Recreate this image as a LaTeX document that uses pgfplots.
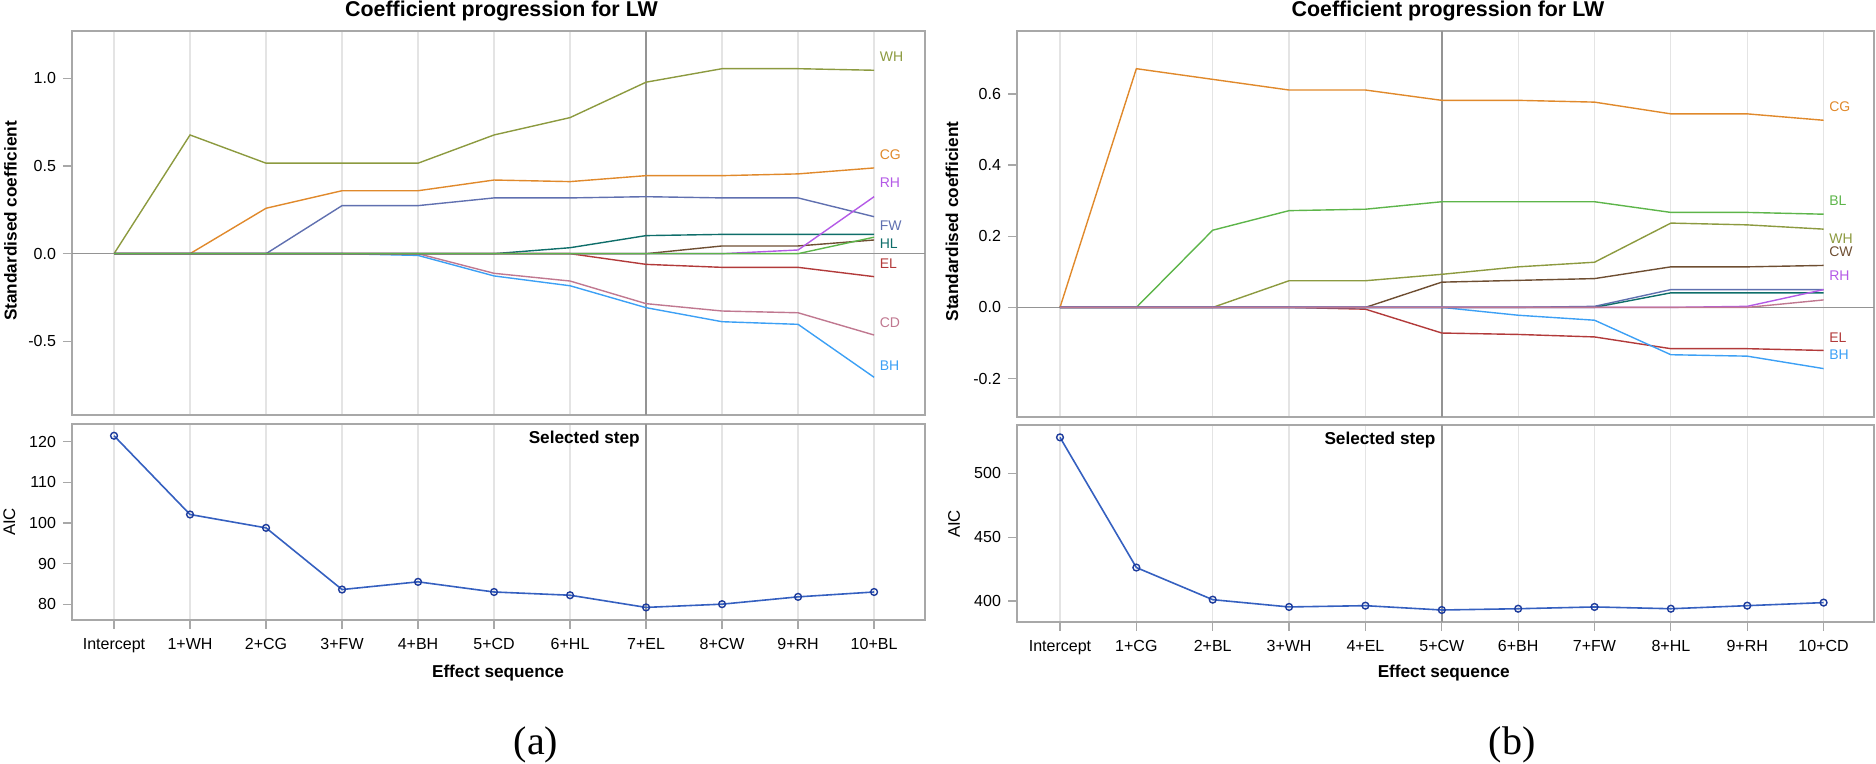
\documentclass[border=0pt]{standalone}
\usepackage{fontspec}
\setmainfont{Liberation Sans}
\newfontfamily\capfont{Liberation Serif}
\usepackage{pgfplots}
\pgfplotsset{compat=1.18}

\definecolor{cWH}{HTML}{8C9A3F}
\definecolor{cCG}{HTML}{E0892B}
\definecolor{cFW}{HTML}{6070B0}
\definecolor{cRH}{HTML}{B45AE6}
\definecolor{cHL}{HTML}{0F6E6A}
\definecolor{cEL}{HTML}{B23A3A}
\definecolor{cCD}{HTML}{C07890}
\definecolor{cBH}{HTML}{3CA0F5}
\definecolor{cCW}{HTML}{6E4E32}
\definecolor{cBL}{HTML}{5DB54A}
\definecolor{aicline}{HTML}{3560C0}
\definecolor{aicmark}{HTML}{1E3C9C}
\definecolor{frame}{HTML}{A8A8A8}
\definecolor{gridc}{HTML}{E4E4E4}
\definecolor{selc}{HTML}{949494}

\newcommand\tickfont{\fontsize{8}{9.6}\selectfont}
\newcommand\labfont{\fontsize{8.6}{10}\selectfont\bfseries}
\newcommand\serfont{\fontsize{7}{8}\selectfont}

\tikzset{lab/.style={anchor=west, inner sep=0pt, font=\serfont}}

\pgfplotsset{
  sas/.style={
    scale only axis, anchor=south west,
    axis line style={draw=frame, line width=0.9pt},
    tick pos=left, tick align=outside, major tick length=4.5pt,
    tick style={draw=frame, line width=0.6pt},
    tick label style={font=\tickfont},
    xticklabel style={yshift=-1pt},
    /pgf/number format/assume math mode=true,
    xtick={0,...,10}, xmajorgrids,
    major grid style={draw=gridc, line width=0.6pt},
    extra x tick style={major grid style={draw=selc, line width=0.7pt}},
    extra x tick labels={},
    clip=false,
  },
  top/.style={sas, xticklabels={}, xtick style={draw=none},
    extra y ticks={0}, extra y tick labels={},
    extra y tick style={major grid style={draw=selc, line width=0.7pt}, ymajorgrids=true},
    yticklabel style={/pgf/number format/.cd, fixed, fixed zerofill, precision=1}},
  ser/.style={line width=0.7pt, mark=none},
  aic/.style={color=aicline, line width=0.8pt, mark=o, mark size=1.7pt,
    mark options={draw=aicmark, line width=0.7pt}},
}

\begin{document}
\begin{tikzpicture}
\path[use as bounding box] (0,0) rectangle (938pt,382pt);

% ---------------- panel (a), coefficients
\begin{axis}[top, at={(36pt,174.5pt)}, width=426.5pt, height=192pt,
  xmin=-0.553, xmax=10.67, ymin=-0.92, ymax=1.27,
  ytick={-0.5,0,0.5,1}, extra x ticks={7}]
\addplot[ser, cWH] coordinates {(0,0) (1,0.677) (2,0.516) (3,0.516) (4,0.516) (5,0.677) (6,0.776) (7,0.978) (8,1.055) (9,1.055) (10,1.046)};
\addplot[ser, cCG] coordinates {(0,0) (1,0) (2,0.259) (3,0.359) (4,0.359) (5,0.420) (6,0.411) (7,0.445) (8,0.445) (9,0.455) (10,0.489)};
\addplot[ser, cFW] coordinates {(0,0) (1,0) (2,0) (3,0.274) (4,0.274) (5,0.318) (6,0.318) (7,0.325) (8,0.318) (9,0.318) (10,0.211)};
\addplot[ser, cBH] coordinates {(0,0) (1,0) (2,0) (3,0) (4,-0.010) (5,-0.127) (6,-0.183) (7,-0.308) (8,-0.388) (9,-0.403) (10,-0.705)};
\addplot[ser, cCD] coordinates {(0,0) (1,0) (2,0) (3,0) (4,0) (5,-0.112) (6,-0.156) (7,-0.285) (8,-0.327) (9,-0.337) (10,-0.464)};
\addplot[ser, cHL] coordinates {(0,0) (1,0) (2,0) (3,0) (4,0) (5,0) (6,0.034) (7,0.103) (8,0.110) (9,0.110) (10,0.110)};
\addplot[ser, cEL] coordinates {(0,0) (1,0) (2,0) (3,0) (4,0) (5,0) (6,0) (7,-0.061) (8,-0.078) (9,-0.078) (10,-0.131)};
\addplot[ser, cCW] coordinates {(0,0) (1,0) (2,0) (3,0) (4,0) (5,0) (6,0) (7,0) (8,0.044) (9,0.044) (10,0.078)};
\addplot[ser, cRH] coordinates {(0,0) (1,0) (2,0) (3,0) (4,0) (5,0) (6,0) (7,0) (8,0) (9,0.021) (10,0.325)};
\addplot[ser, cBL] coordinates {(0,0) (1,0) (2,0) (3,0) (4,0) (5,0) (6,0) (7,0) (8,0) (9,0) (10,0.094)};
\node[lab, text=cWH] at (axis cs:10.07,1.124) {WH};
\node[lab, text=cCG] at (axis cs:10.07,0.567) {CG};
\node[lab, text=cRH] at (axis cs:10.07,0.403) {RH};
\node[lab, text=cFW] at (axis cs:10.07,0.162) {FW};
\node[lab, text=cHL] at (axis cs:10.07,0.057) {HL};
\node[lab, text=cEL] at (axis cs:10.07,-0.055) {EL};
\node[lab, text=cCD] at (axis cs:10.07,-0.395) {CD};
\node[lab, text=cBH] at (axis cs:10.07,-0.639) {BH};
\end{axis}

% ---------------- panel (a), AIC
\begin{axis}[sas, at={(36pt,72pt)}, width=426.5pt, height=98pt,
  xmin=-0.553, xmax=10.67, ymin=76.1, ymax=124.4,
  ytick={80,90,100,110,120}, extra x ticks={7},
  xticklabels={Intercept,1+WH,2+CG,3+FW,4+BH,5+CD,6+HL,7+EL,8+CW,9+RH,10+BL}]
\addplot[aic] coordinates {(0,121.5) (1,102.1) (2,98.8) (3,83.6) (4,85.5) (5,83.0) (6,82.2) (7,79.2) (8,80.0) (9,81.8) (10,83.0)};
\node[anchor=north east, inner sep=0pt, xshift=-3pt, yshift=-3.5pt, font=\labfont] at (axis cs:7,124.4) {Selected step};
\end{axis}

% ---------------- panel (b), coefficients
\begin{axis}[top, at={(508.5pt,173.5pt)}, width=428.5pt, height=193pt,
  xmin=-0.563, xmax=10.66, ymin=-0.308, ymax=0.777,
  ytick={-0.2,0,0.2,0.4,0.6}, extra x ticks={5}]
\addplot[ser, cCG] coordinates {(0,0) (1,0.671) (2,0.641) (3,0.611) (4,0.611) (5,0.582) (6,0.582) (7,0.577) (8,0.544) (9,0.544) (10,0.526)};
\addplot[ser, cBL] coordinates {(0,0) (1,0) (2,0.217) (3,0.272) (4,0.276) (5,0.297) (6,0.297) (7,0.297) (8,0.267) (9,0.267) (10,0.262)};
\addplot[ser, cWH] coordinates {(0,0) (1,0) (2,0) (3,0.075) (4,0.075) (5,0.093) (6,0.114) (7,0.127) (8,0.237) (9,0.232) (10,0.220)};
\addplot[ser, cEL] coordinates {(0,0) (1,0) (2,0) (3,0) (4,-0.005) (5,-0.072) (6,-0.076) (7,-0.083) (8,-0.116) (9,-0.116) (10,-0.121)};
\addplot[ser, cCW] coordinates {(0,0) (1,0) (2,0) (3,0) (4,0) (5,0.071) (6,0.076) (7,0.081) (8,0.114) (9,0.114) (10,0.118)};
\addplot[ser, cBH] coordinates {(0,0) (1,0) (2,0) (3,0) (4,0) (5,0) (6,-0.022) (7,-0.036) (8,-0.133) (9,-0.137) (10,-0.172)};
\addplot[ser, cFW] coordinates {(0,0) (1,0) (2,0) (3,0) (4,0) (5,0) (6,0) (7,0.003) (8,0.050) (9,0.050) (10,0.050)};
\addplot[ser, cHL] coordinates {(0,0) (1,0) (2,0) (3,0) (4,0) (5,0) (6,0) (7,0) (8,0.041) (9,0.041) (10,0.041)};
\addplot[ser, cRH] coordinates {(0,0) (1,0) (2,0) (3,0) (4,0) (5,0) (6,0) (7,0) (8,0) (9,0.003) (10,0.050)};
\addplot[ser, cCD] coordinates {(0,0) (1,0) (2,0) (3,0) (4,0) (5,0) (6,0) (7,0) (8,0) (9,0) (10,0.021)};
\node[lab, text=cCG] at (axis cs:10.07,0.564) {CG};
\node[lab, text=cBL] at (axis cs:10.07,0.300) {BL};
\node[lab, text=cWH] at (axis cs:10.07,0.194) {WH};
\node[lab, text=cCW] at (axis cs:10.07,0.156) {CW};
\node[lab, text=cRH] at (axis cs:10.07,0.088) {RH};
\node[lab, text=cEL] at (axis cs:10.07,-0.084) {EL};
\node[lab, text=cBH] at (axis cs:10.07,-0.134) {BH};
\end{axis}

% ---------------- panel (b), AIC
\begin{axis}[sas, at={(508.5pt,71pt)}, width=428.5pt, height=98.5pt,
  xmin=-0.563, xmax=10.66, ymin=383.5, ymax=538,
  ytick={400,450,500}, extra x ticks={5},
  xticklabels={Intercept,1+CG,2+BL,3+WH,4+EL,5+CW,6+BH,7+FW,8+HL,9+RH,10+CD}]
\addplot[aic] coordinates {(0,528.3) (1,426.2) (2,401.0) (3,395.3) (4,396.3) (5,392.9) (6,393.9) (7,395.3) (8,393.9) (9,396.3) (10,398.7)};
\node[anchor=north east, inner sep=0pt, xshift=-3pt, yshift=-3.5pt, font=\labfont] at (axis cs:5,538) {Selected step};
\end{axis}

% ---------------- titles, axis labels, captions
\node[anchor=base, font=\fontsize{10.7}{12}\selectfont\bfseries] at (250.75pt,373.6pt) {Coefficient progression for LW};
\node[anchor=base, font=\fontsize{10.7}{12}\selectfont\bfseries] at (724pt,373.6pt) {Coefficient progression for LW};
\node[rotate=90, font=\labfont] at (5.25pt,271.5pt) {Standardised coefficient};
\node[rotate=90, font=\labfont] at (476pt,271.2pt) {Standardised coefficient};
\node[rotate=90, font=\fontsize{8.4}{10}\selectfont] at (4.65pt,121pt) {AIC};
\node[rotate=90, font=\fontsize{8.4}{10}\selectfont] at (477pt,120pt) {AIC};
\node[anchor=base, font=\labfont] at (249pt,43pt) {Effect sequence};
\node[anchor=base, font=\labfont] at (721.85pt,43pt) {Effect sequence};
\node[anchor=base, font=\capfont\fontsize{20}{24}\selectfont] at (268pt,4.5pt) {(a)};
\node[anchor=base, font=\capfont\fontsize{20}{24}\selectfont] at (756pt,4.5pt) {(b)};
\end{tikzpicture}
\end{document}
